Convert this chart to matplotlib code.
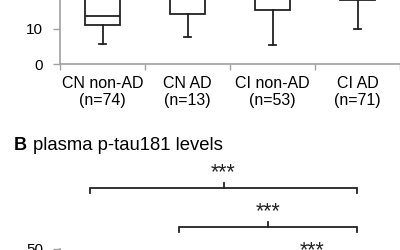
import matplotlib
matplotlib.use("Agg")
import matplotlib.pyplot as plt

plt.rcParams['font.family'] = ['Liberation Sans', 'DejaVu Sans']
plt.rcParams['font.size'] = 11

# panel A: box statistics per group (upper part is outside the crop, estimated)
groups = ["CN non-AD\n(n=74)", "CN AD\n(n=13)", "CI non-AD\n(n=53)", "CI AD\n(n=71)"]
whis_lo = [5.8, 7.7, 5.5, 10.0]
q1 = [11.2, 14.4, 15.4, 18.2]
median = [13.8, 19.5, 20.5, 25.0]
q3 = [19.5, 25.0, 26.0, 32.0]
whis_hi = [28.0, 35.0, 38.0, 45.0]
yticks_a = [0, 10]

# panel B: significance brackets (group index pairs) and labels
brackets = [(1, 4), (2, 4), (3, 4)]
bracket_labels = ["***", "***", "***"]
yticks_b = [50]

W, H = 400, 250
fig = plt.figure(figsize=(4, 2.5), dpi=100)
grey = '#a0a0a0'
ink = '#222222'

# ---- panel A (only its bottom is visible) ----
px_a = 3.5  # pixels per unit
axA = fig.add_axes([60 / W, (H - 64) / H, 340 / W, 40 * px_a / H])
stats = [dict(whislo=whis_lo[i], q1=q1[i], med=median[i], q3=q3[i], whishi=whis_hi[i])
         for i in range(len(groups))]
axA.bxp(stats, positions=[1, 2, 3, 4], widths=0.41, capwidths=0.08,
        showfliers=False, patch_artist=True,
        boxprops=dict(facecolor='white', edgecolor=ink, linewidth=1.3),
        medianprops=dict(color=ink, linewidth=1.3),
        whiskerprops=dict(color=ink, linewidth=1.3),
        capprops=dict(color=ink, linewidth=1.3))
axA.set_xlim(0.5, 4.5)
axA.set_ylim(0, 40)
axA.set_yticks(yticks_a)
axA.set_xticks([0.5, 1.5, 2.5, 3.5, 4.5])
axA.set_xticklabels([])
axA.set_xticks([1, 2, 3, 4], minor=True)
axA.set_xticklabels(groups, minor=True, linespacing=1.1, fontsize=11.5)
axA.tick_params(axis='x', which='major', length=4, color=grey, width=1)
axA.tick_params(axis='x', which='minor', length=0, pad=9)
axA.tick_params(axis='y', length=5, color=grey, width=1, pad=7)
for s in ['top', 'right']:
    axA.spines[s].set_visible(False)
for s in ['left', 'bottom']:
    axA.spines[s].set_color(grey)
    axA.spines[s].set_linewidth(1.2)

# ---- panel B title ----
fig.text(14 / W, 1 - 146 / H, "B", fontweight='bold', va='center', ha='left', fontsize=13)
fig.text(33 / W, 1 - 146 / H, "plasma p-tau181 levels", va='center', ha='left', fontsize=13.3)

# ---- panel B (only its top is visible) ----
px_b = 4.0  # pixels per unit
axB = fig.add_axes([60 / W, (H - 249) / H - 50 * px_b / H, 340 / W, 50 * px_b / H])
axB.set_xlim(1 - 30 / 89, 1 + 310 / 89)
axB.set_ylim(0, 50)
axB.set_yticks(yticks_b)
axB.set_xticks([])
axB.tick_params(axis='y', length=5, color=grey, width=1, pad=7)
for s in ['top', 'right', 'bottom']:
    axB.spines[s].set_visible(False)
axB.spines['left'].set_color(grey)
axB.spines['left'].set_linewidth(1.2)

# bracket levels: pixels above the axis top
gaps = [61, 22, -17]
for (a, b), lab, g in zip(brackets, bracket_labels, gaps):
    y = 50 + g / px_b
    drop = 5 / px_b
    axB.plot([a, a, b, b], [y - drop, y, y, y - drop], color=ink, lw=1.3,
             clip_on=False, solid_joinstyle='miter')
    mid = (a + b) / 2
    axB.plot([mid, mid], [y, y + drop], color=ink, lw=1.3, clip_on=False)
    axB.text(mid, y + 10 / px_b, lab, ha='center', va='baseline', fontsize=15.5,
             color=ink, clip_on=False)

fig.savefig("out.png", dpi=100)
